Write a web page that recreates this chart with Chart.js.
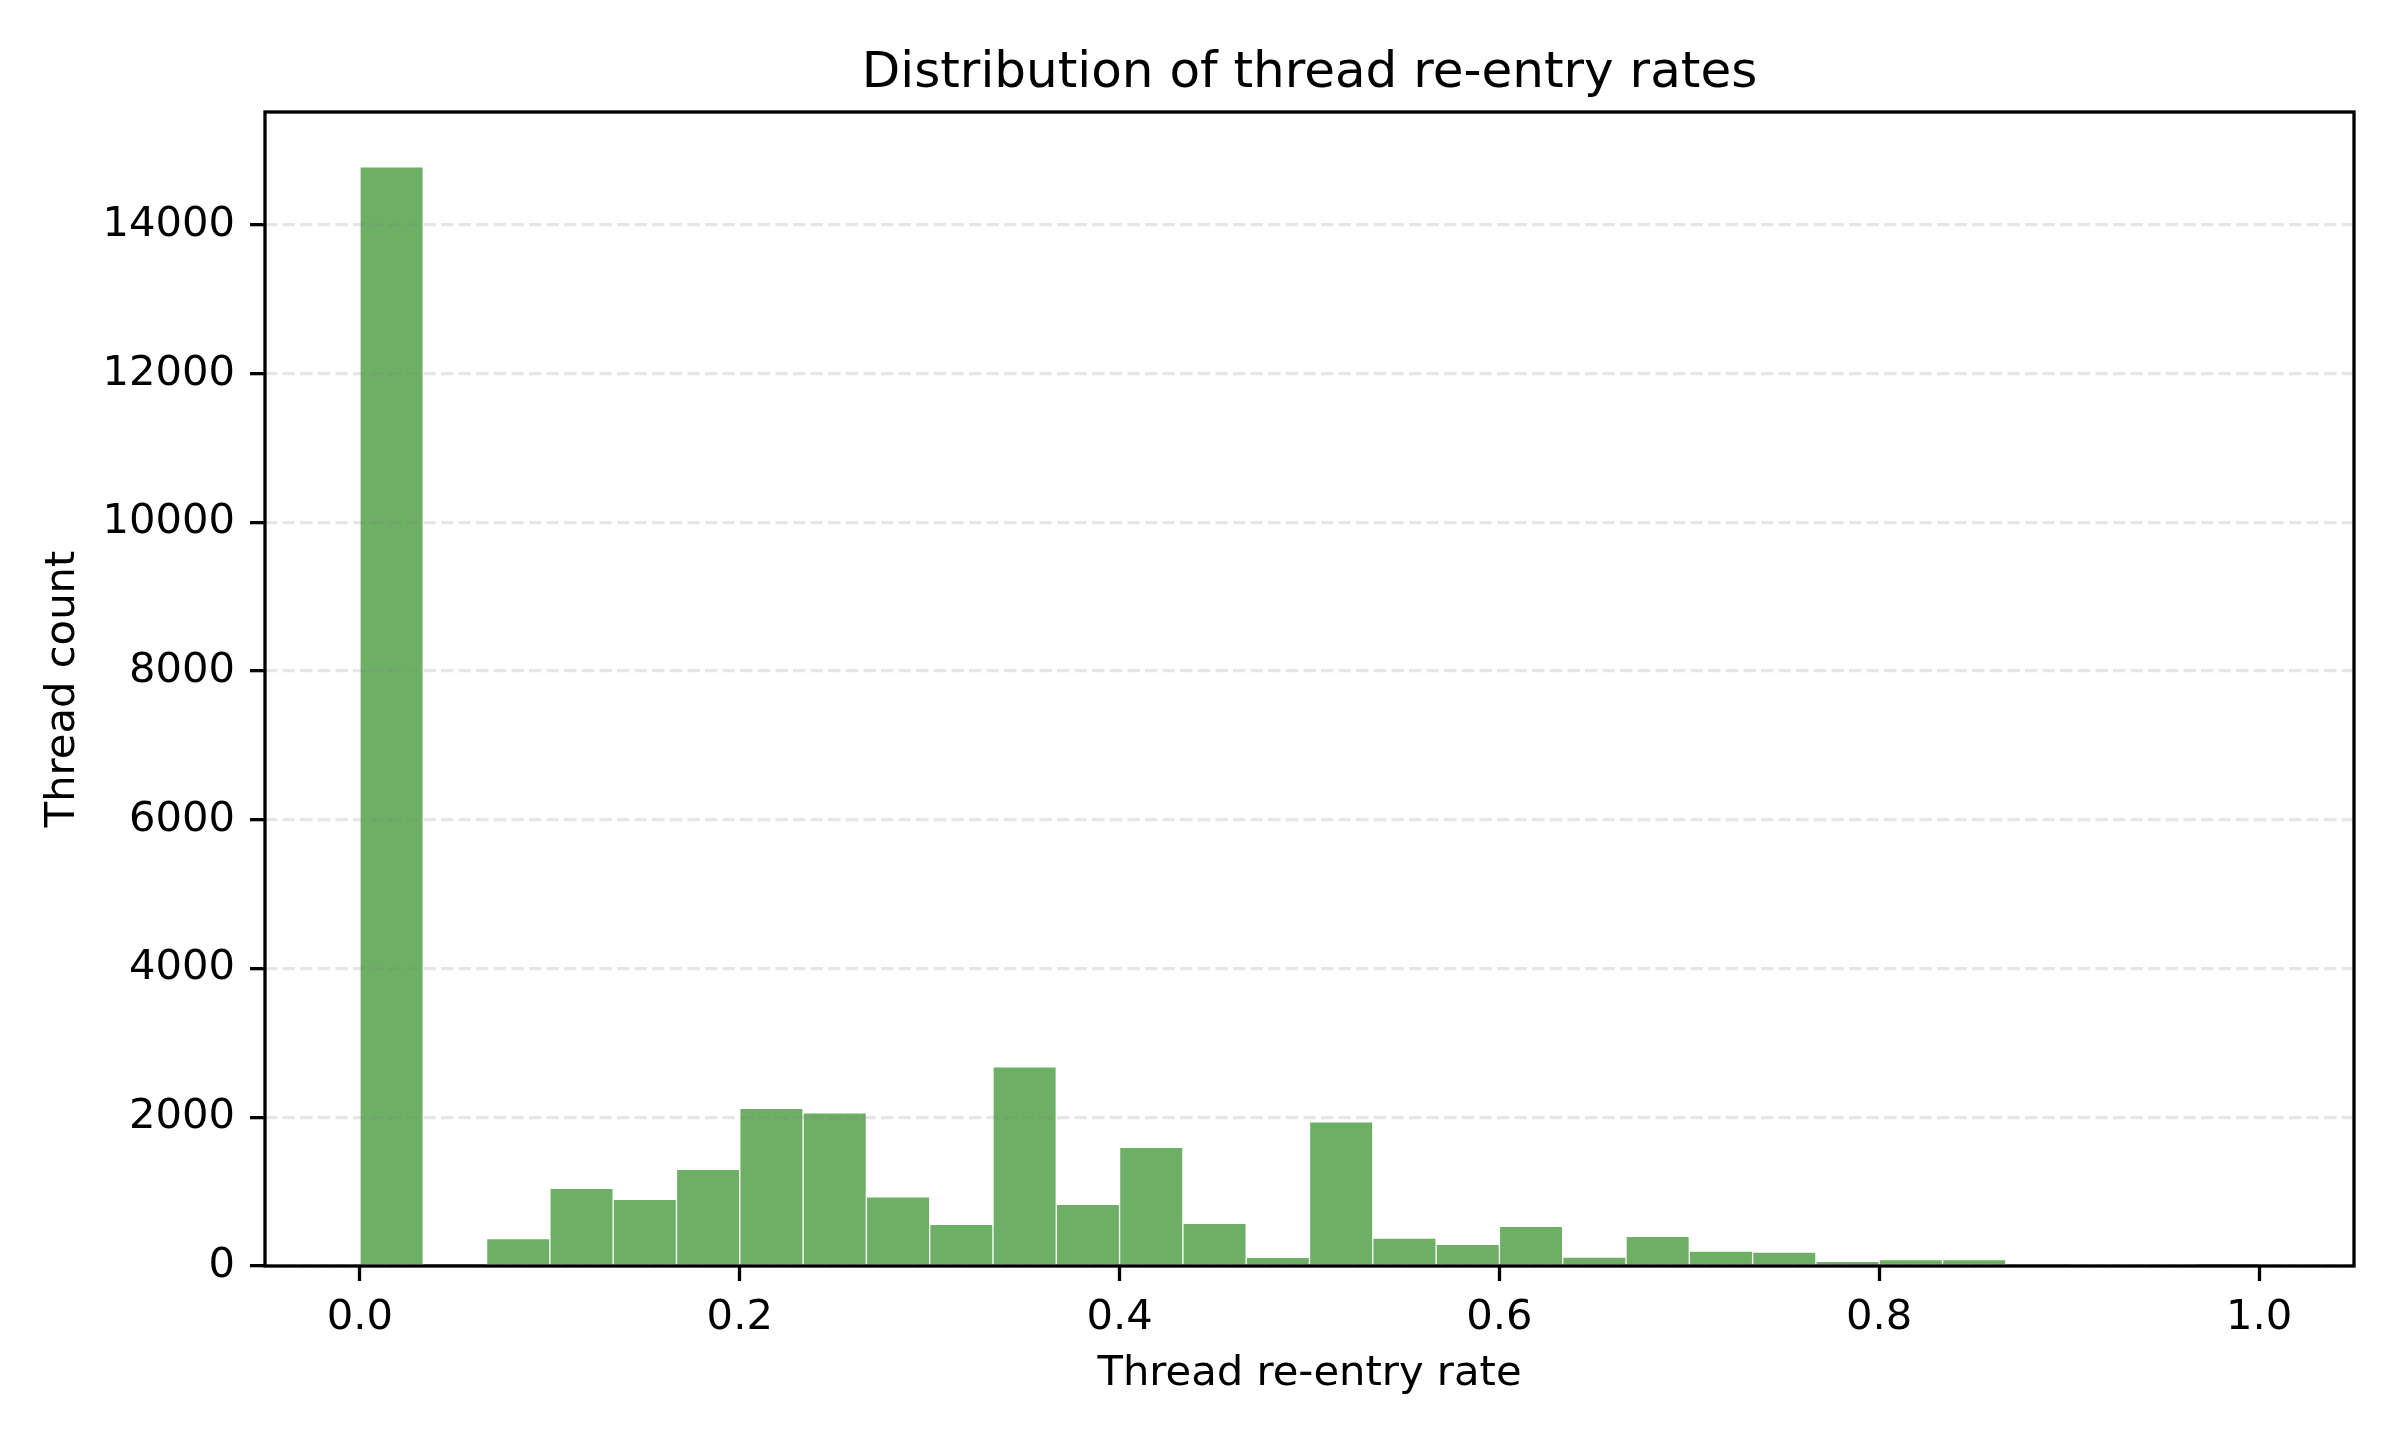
<!DOCTYPE html>
<html>
<head>
<meta charset="utf-8">
<script src="https://cdn.jsdelivr.net/npm/chart.js@4.4.1/dist/chart.umd.min.js"></script>
<style>
  html, body { margin: 0; padding: 0; background: #fff; }
  #chart { display: block; }
</style>
</head>
<body>
<canvas id="chart" width="2400" height="1440"></canvas>
<script>
// histogram of thread re-entry rates, 30 equal bins on [0, 1]
var bin_lo = 0.0;
var bin_hi = 1.0;
var counts = [14780, 8, 370, 1045, 895, 1300, 2120, 2060, 930, 560, 2680, 830, 1595, 575, 115,
              1940, 375, 290, 535, 120, 400, 200, 188, 62, 88, 88, 20, 0, 0, 3];
var x_ticks = [0.0, 0.2, 0.4, 0.6, 0.8, 1.0];
var y_ticks = [0, 2000, 4000, 6000, 8000, 10000, 12000, 14000];
var x_range = [-0.05, 1.05];
var y_range = [0, 15519];

var title_text = 'Distribution of thread re-entry rates';
var x_label = 'Thread re-entry rate';
var y_label = 'Thread count';

var font_family = '"DejaVu Sans", sans-serif';
var bar_color = '#6daf64';

var ctx = document.getElementById('chart');

// bars sit on bin centres, so the linear x scale gives them the full bin width
var bin_w = (bin_hi - bin_lo) / counts.length;
var points = [];
for (let i = 0; i < counts.length; i++) {
    points.push({x: bin_lo + bin_w * (i + 0.5), y: counts[i]});
}

// title centred over the plot area, and a full black frame round it
var frame_plugin = {
    id: 'frame',
    afterDraw(chart) {
        let a = chart.chartArea;
        let c = chart.ctx;
        c.save();
        c.strokeStyle = '#000';
        c.lineWidth = 3.3;
        c.strokeRect(a.left, a.top, a.right - a.left, a.bottom - a.top);
        c.fillStyle = '#000';
        c.font = '50px ' + font_family;
        c.textAlign = 'center';
        c.textBaseline = 'alphabetic';
        c.fillText(title_text, (a.left + a.right) / 2, 87);
        c.restore();
    }
};

Chart.defaults.color = '#000';
Chart.defaults.font.family = font_family;
Chart.defaults.font.size = 41.7;

var chart = new Chart(ctx, {
    type: 'bar',
    data: {
        datasets: [{
            data: points,
            backgroundColor: bar_color,
            borderColor: '#ffffff',
            borderWidth: 1,
            borderSkipped: 'start',
            barPercentage: 1.0,
            categoryPercentage: 1.0,
            grouped: false
        }]
    },
    options: {
        responsive: false,
        animation: false,
        devicePixelRatio: 1,
        layout: { padding: { left: 0, right: 46, top: 112, bottom: 0 } },
        plugins: {
            legend: { display: false },
            tooltip: { enabled: false },
            title: { display: false }
        },
        scales: {
            x: {
                type: 'linear',
                min: x_range[0],
                max: x_range[1],
                offset: false,
                border: { display: false },
                grid: {
                    display: true,
                    offset: false,
                    drawOnChartArea: false,
                    drawTicks: true,
                    tickLength: 15,
                    tickColor: '#000',
                    tickWidth: 3.3
                },
                afterBuildTicks: function(scale) {
                    scale.ticks = x_ticks.map(v => ({value: v}));
                },
                afterFit: function(scale) { scale.height = 174; },
                ticks: {
                    padding: 12,
                    maxRotation: 0,
                    autoSkip: false,
                    callback: v => Number(v).toFixed(1)
                },
                title: {
                    display: true,
                    text: x_label,
                    padding: { top: 0, bottom: 41 }
                }
            },
            y: {
                type: 'linear',
                min: y_range[0],
                max: y_range[1],
                // in v4 the grid line dash lives on border
                border: { display: false, dash: [12.3, 5.3] },
                grid: {
                    z: 1,
                    color: 'rgba(128,128,128,0.2)',
                    lineWidth: 3.3,
                    drawTicks: true,
                    tickLength: 15,
                    tickColor: '#000',
                    tickWidth: 3.3,
                    tickBorderDash: []
                },
                afterBuildTicks: function(scale) {
                    scale.ticks = y_ticks.map(v => ({value: v}));
                },
                afterFit: function(scale) { scale.width = 265; },
                ticks: {
                    padding: 15,
                    autoSkip: false,
                    callback: v => String(v)
                },
                title: {
                    display: true,
                    text: y_label,
                    padding: { top: 38, bottom: 0 }
                }
            }
        }
    },
    plugins: [frame_plugin]
});
</script>
</body>
</html>
